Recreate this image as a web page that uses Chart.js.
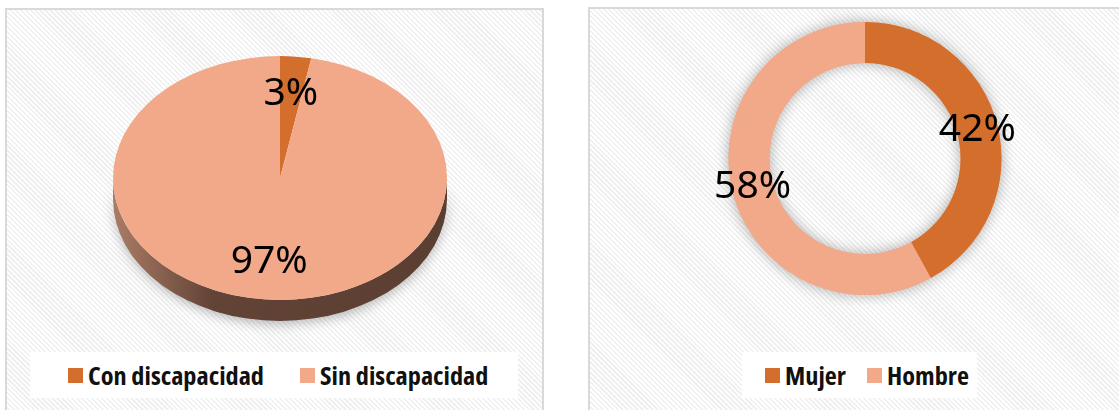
<!DOCTYPE html>
<html>
<head>
<meta charset="utf-8">
<script src="https://cdn.jsdelivr.net/npm/chart.js@4.4.1/dist/chart.umd.min.js"></script>
<style>
  html,body{margin:0;padding:0;background:#fff;}
  body{width:1119px;height:410px;overflow:hidden;position:relative;}
  .panel{position:absolute;box-sizing:border-box;border:2px solid #d9d9d9;
    background:repeating-linear-gradient(45deg,#ffffff 0px,#ffffff 1.8px,#f0f0f0 1.8px,#f0f0f0 3.5px);}
  .legend{position:absolute;background:#fff;box-sizing:border-box;display:flex;align-items:center;
    font-family:"Open Sans","Noto Sans",sans-serif;font-stretch:85%;font-weight:bold;font-size:24.5px;color:#111;}
  .legend .sw{display:inline-block;width:15px;height:15px;margin-right:5px;flex:none;}
  .legend .txt{display:inline-block;white-space:nowrap;transform-origin:0 50%;}
  canvas{position:absolute;top:0;}
</style>
</head>
<body>
<div class="panel" style="left:5px;top:8px;width:539px;height:430px"></div>
<div class="panel" style="left:588px;top:7px;width:600px;height:430px"></div>

<div class="legend" id="leg1" style="left:30px;top:352px;width:488px;height:46px;padding-left:38px"></div>
<div class="legend" id="leg2" style="left:742px;top:352px;width:235px;height:46px;padding-left:23px"></div>

<canvas id="c1" width="560" height="410" style="left:0"></canvas>
<canvas id="c2" width="559" height="410" style="left:560px"></canvas>

<script>
// ---- data ----
const discLabels = ["Con discapacidad", "Sin discapacidad"];
const discValues = [3, 97];
const sexLabels = ["Mujer", "Hombre"];
const sexValues = [42, 58];
const colors = ["#D36E2C", "#F2A98A"];

// legend (real HTML text), width-fitted to match the reference's condensed face
const LEGEND_REF_WIDTH = 176; // rendered width of "Con discapacidad" in the reference
function buildLegend(id, labels, gap) {
  const el = document.getElementById(id);
  const spans = [];
  labels.forEach((l, i) => {
    const sw = document.createElement('span');
    sw.className = 'sw';
    sw.style.background = colors[i];
    const t = document.createElement('span');
    t.className = 'txt';
    t.textContent = l;
    el.appendChild(sw); el.appendChild(t);
    spans.push(t);
  });
  return { spans, gap };
}
const L1 = buildLegend('leg1', discLabels, 36);
const L2 = buildLegend('leg2', sexLabels, 21);
const legendScale = LEGEND_REF_WIDTH / L1.spans[0].getBoundingClientRect().width;
[L1, L2].forEach(L => {
  L.spans.forEach((t, i) => {
    const w = t.getBoundingClientRect().width;
    t.style.transform = 'scaleX(' + legendScale + ')';
    const extra = (i < L.spans.length - 1) ? L.gap : 0;
    t.style.marginRight = (extra - w * (1 - legendScale)) + 'px';
  });
});

const LABEL_FONT = '39px "Noto Sans", "Open Sans", sans-serif';

// 3D-looking tilted pie
const pie3d = {
  id: 'pie3d',
  beforeDatasetsDraw(chart, args, opts) {
    const arc = chart.getDatasetMeta(0).data[0];
    const x = arc.x, y = arc.y, r = arc.outerRadius, t = opts.tilt, D = opts.depth;
    const ctx = chart.ctx;
    ctx.save();
    const g = ctx.createLinearGradient(x - r, 0, x + r, 0);
    g.addColorStop(0, '#ab7c66');
    g.addColorStop(0.3, '#624336');
    g.addColorStop(1, '#5b3e32');
    ctx.beginPath();
    ctx.moveTo(x + r, y);
    ctx.lineTo(x + r, y + D);
    ctx.ellipse(x, y + D, r, r * t, 0, 0, Math.PI);
    ctx.lineTo(x - r, y);
    ctx.ellipse(x, y, r, r * t, 0, Math.PI, 0, true);
    ctx.closePath();
    ctx.shadowColor = 'rgba(0,0,0,0.28)';
    ctx.shadowBlur = 12;
    ctx.shadowOffsetY = 3;
    ctx.fillStyle = g;
    ctx.fill();
    ctx.restore();
    ctx.save();
    ctx.translate(0, y);
    ctx.scale(1, t);
    ctx.translate(0, -y);
  },
  afterDatasetsDraw(chart) {
    chart.ctx.restore();
  }
};

// donut shadow
const ringShadow = {
  id: 'ringShadow',
  beforeDatasetsDraw(chart) {
    const arc = chart.getDatasetMeta(0).data[0];
    const ctx = chart.ctx;
    ctx.save();
    ctx.beginPath();
    ctx.arc(arc.x, arc.y, arc.outerRadius, 0, Math.PI * 2);
    ctx.arc(arc.x, arc.y, arc.innerRadius, 0, Math.PI * 2, true);
    ctx.closePath();
    ctx.shadowColor = 'rgba(0,0,0,0.32)';
    ctx.shadowBlur = 14;
    ctx.fillStyle = '#f2a98a';
    ctx.fill();
    ctx.restore();
  }
};

// percentage labels
const pctLabels = {
  id: 'pctLabels',
  afterDraw(chart, args, opts) {
    const ctx = chart.ctx;
    const meta = chart.getDatasetMeta(0);
    const data = chart.data.datasets[0].data;
    const total = data.reduce((a, b) => a + b, 0);
    ctx.save();
    ctx.font = LABEL_FONT;
    ctx.fillStyle = '#000';
    ctx.textAlign = 'center';
    ctx.textBaseline = 'middle';
    meta.data.forEach((a, i) => {
      const mid = (a.startAngle + a.endAngle) / 2;
      const rr = a.innerRadius + (a.outerRadius - a.innerRadius) * opts.frac;
      const px = a.x + Math.cos(mid) * rr;
      const py = a.y + Math.sin(mid) * rr * opts.tilt;
      ctx.fillText(Math.round(data[i] / total * 100) + '%', px, py);
    });
    ctx.restore();
  }
};

const common = {
  responsive: false,
  animation: false,
  events: [],
  plugins: { legend: { display: false }, tooltip: { enabled: false } }
};

new Chart(document.getElementById('c1'), {
  type: 'pie',
  data: { labels: discLabels, datasets: [{ data: discValues, backgroundColor: colors, borderWidth: 0 }] },
  options: Object.assign({}, common, {
    layout: { padding: { left: 113, right: 113, top: 11, bottom: 65 } },
    plugins: Object.assign({}, common.plugins, {
      pie3d: { tilt: 0.73, depth: 21 },
      pctLabels: { frac: 0.69, tilt: 0.73 }
    })
  }),
  plugins: [pie3d, pctLabels]
});

new Chart(document.getElementById('c2'), {
  type: 'doughnut',
  data: { labels: sexLabels, datasets: [{ data: sexValues, backgroundColor: colors, borderWidth: 0 }] },
  options: Object.assign({}, common, {
    cutout: '70%',
    layout: { padding: { left: 168, right: 117, top: 22, bottom: 115 } },
    plugins: Object.assign({}, common.plugins, {
      pctLabels: { frac: 0.5, tilt: 1 }
    })
  }),
  plugins: [ringShadow, pctLabels]
});
</script>
</body>
</html>
